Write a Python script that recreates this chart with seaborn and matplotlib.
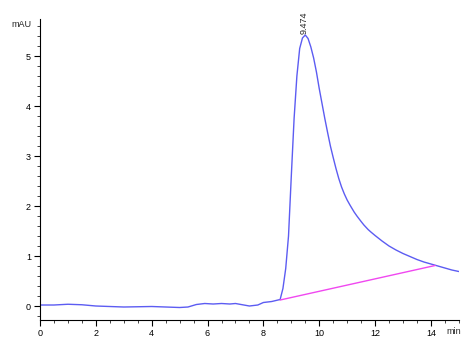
import matplotlib
matplotlib.use("Agg")
import matplotlib.pyplot as plt
import seaborn as sns
import pandas as pd
from matplotlib.ticker import MultipleLocator

time_min = [0, 0.5, 1.0, 1.5, 2.0, 2.5, 3.0, 3.5, 4.0, 4.5, 5.0, 5.3, 5.6, 5.9,
            6.2, 6.5, 6.8, 7.0, 7.2, 7.5, 7.8, 8.0, 8.3, 8.6, 8.7, 8.8, 8.9, 9.0,
            9.1, 9.2, 9.3, 9.4, 9.5, 9.6, 9.7, 9.8, 9.9, 10.0, 10.1, 10.2, 10.3,
            10.4, 10.5, 10.6, 10.7, 10.8, 10.9, 11.0, 11.1, 11.25, 11.35, 11.5,
            11.6, 11.75, 11.85, 12.0, 12.25, 12.5, 12.75, 13.0, 13.25, 13.5,
            13.75, 14.0, 14.25, 14.5, 14.75, 15.0]
signal_mau = [0.02, 0.02, 0.035, 0.025, 0.0, -0.01, -0.02, -0.015, -0.01, -0.02,
              -0.03, -0.02, 0.03, 0.05, 0.04, 0.05, 0.04, 0.05, 0.03, 0.0, 0.02,
              0.07, 0.09, 0.13, 0.35, 0.75, 1.4, 2.6, 3.75, 4.6, 5.15, 5.36, 5.42,
              5.35, 5.18, 4.96, 4.68, 4.35, 4.05, 3.75, 3.47, 3.2, 2.97, 2.75,
              2.55, 2.38, 2.24, 2.12, 2.02, 1.88, 1.8, 1.69, 1.62, 1.53, 1.48,
              1.41, 1.3, 1.2, 1.12, 1.05, 0.99, 0.93, 0.88, 0.84, 0.8, 0.76,
              0.72, 0.69]
baseline_time = [8.6, 14.15]
baseline_mau = [0.12, 0.81]
peak_time = 9.474
peak_height = 5.42
peak_label = "9.474"
x_ticks = [0, 2, 4, 6, 8, 10, 12, 14]
y_ticks = [0, 1, 2, 3, 4, 5]

sns.set_style("white")
plt.rcParams['font.family'] = ['Liberation Sans', 'DejaVu Sans']

fig = plt.figure(figsize=(4.77, 3.5), dpi=100)
ax = fig.add_axes([0.0839, 0.0857, 0.878, 0.86])

df = pd.DataFrame({"t": time_min, "s": signal_mau})
bl = pd.DataFrame({"t": baseline_time, "s": baseline_mau})
sns.lineplot(data=df, x="t", y="s", ax=ax, color="#5c5cf2", linewidth=1.0)
sns.lineplot(data=bl, x="t", y="s", ax=ax, color="#f048f0", linewidth=1.0)

ax.set_xlim(0, 15)
ax.set_ylim(-0.28, 5.74)
ax.set_xticks(x_ticks)
ax.set_yticks(y_ticks)
ax.xaxis.set_minor_locator(MultipleLocator(0.5))
ax.yaxis.set_minor_locator(MultipleLocator(0.2))
ax.tick_params(which="major", direction="out", length=4, width=0.8, labelsize=6.5,
               colors="black", bottom=True, left=True, pad=2.5)
ax.tick_params(which="minor", direction="out", length=2, width=0.6,
               bottom=True, left=True)
ax.set_xlabel("")
ax.set_ylabel("")
for side in ["top", "right"]:
    ax.spines[side].set_visible(False)
for side in ["left", "bottom"]:
    ax.spines[side].set_color("black")
    ax.spines[side].set_linewidth(0.8)

ax.text(-0.3, 5.64, "mAU", fontsize=6.5, ha="right", va="center")
ax.annotate("min", xy=(1.0, 0), xycoords="axes fraction", xytext=(-4, -8.5),
            textcoords="offset points", fontsize=6.5, ha="center", va="center")
ax.text(peak_time, peak_height + 0.03, peak_label, rotation=90, fontsize=6.5,
        ha="center", va="bottom")

fig.savefig("out.png", dpi=100)
